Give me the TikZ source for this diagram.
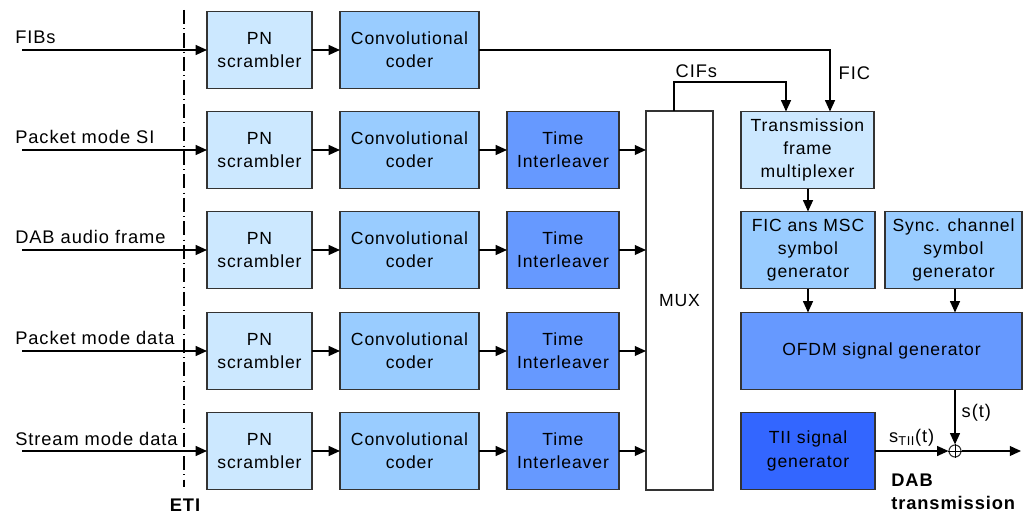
\documentclass[tikz,border=0pt]{standalone}
\usepackage{fontspec}
\setmainfont[LetterSpace=5]{Liberation Sans}
\usetikzlibrary{arrows.meta, calc}
\definecolor{paleblue}{RGB}{204, 232, 255}
\definecolor{midblue}{RGB}{153, 204, 255}
\definecolor{deepblue}{RGB}{102, 153, 255}
\definecolor{darkblue}{RGB}{51, 102, 255}
\definecolor{edgegray}{RGB}{51, 51, 51}
\tikzstyle{block} = [draw=edgegray, line width=1pt, inner sep=2, outer sep=0,
    minimum height=1.925cm, align=center, font=\fontsize{12.5}{16.5}\selectfont]
\tikzstyle{pn} = [block, fill=paleblue, minimum width=2.625cm]
\tikzstyle{conv} = [block, fill=midblue, minimum width=3.475cm]
\tikzstyle{inter} = [block, fill=deepblue, minimum width=2.8cm]
\tikzstyle{arr} = [-{Triangle[length=8pt,width=7pt]}, line width=1pt]
\tikzstyle{lbl} = [font=\fontsize{13}{15}\selectfont, inner sep=0]

\begin{document}
\begin{tikzpicture}[x=0.025cm, y=-0.025cm]

\useasboundingbox (0,0) rectangle (1024,517);

%%% ETI border
\draw[line width=1pt, dash pattern=on 10pt off 3pt on 0.7pt off 3pt] (184,10) -- (184,487);
\node[lbl, font=\fontsize{13}{15}\selectfont\bfseries] (eti) at (185,505) {ETI};


%%% inputs
\coordinate (in1) at (22,50);
\coordinate (in2) at (22,150);
\coordinate (in3) at (22,250);
\coordinate (in4) at (22,351);
\coordinate (in5) at (22,451);

\node[lbl, anchor=base west] (fibs) at (15,44) {FIBs};
\node[lbl, anchor=base west] (pmsi) at (15,144) {Packet mode SI};
\node[lbl, anchor=base west] (audio) at (15,244) {DAB audio frame};
\node[lbl, anchor=base west] (pmdata) at (15,345) {Packet mode data};
\node[lbl, anchor=base west] (smdata) at (15,445) {Stream mode data};


%%% scramblers
\node[pn] (pn1) at (259.5,50) {PN\\scrambler};
\node[pn] (pn2) at (259.5,150) {PN\\scrambler};
\node[pn] (pn3) at (259.5,250) {PN\\scrambler};
\node[pn] (pn4) at (259.5,351) {PN\\scrambler};
\node[pn] (pn5) at (259.5,451) {PN\\scrambler};

%%% coders
\node[conv] (conv1) at (409.5,50) {Convolutional\\coder};
\node[conv] (conv2) at (409.5,150) {Convolutional\\coder};
\node[conv] (conv3) at (409.5,250) {Convolutional\\coder};
\node[conv] (conv4) at (409.5,351) {Convolutional\\coder};
\node[conv] (conv5) at (409.5,451) {Convolutional\\coder};

%%% interleavers
\node[inter] (ti2) at (563,150) {Time\\Interleaver};
\node[inter] (ti3) at (563,250) {Time\\Interleaver};
\node[inter] (ti4) at (563,351) {Time\\Interleaver};
\node[inter] (ti5) at (563,451) {Time\\Interleaver};

\node[block, fill=white, minimum width=1.675cm, minimum height=9.475cm] (mux) at (679.5,300.5) {MUX};


%%% transmitter side
\node[block, fill=paleblue, minimum width=3.325cm] (tfm) at (807.5,150) {Transmission\\frame\\multiplexer};
\node[block, fill=midblue, minimum width=3.35cm] (fic) at (808,250) {FIC ans MSC\\symbol\\generator};
\node[block, fill=midblue, minimum width=3.425cm] (sync) at (953.5,250) {Sync. channel\\symbol\\generator};
\node[block, fill=deepblue, minimum width=7.025cm] (ofdm) at (881.5,351) {OFDM signal generator};
\node[block, fill=darkblue, minimum width=3.35cm] (tii) at (808,451) {TII signal\\generator};

\node[circle, draw=edgegray, line width=0.8pt, fill=white, inner sep=0, minimum size=0.3cm] (add) at (955,451) {};
\draw[line width=0.6pt] (add.north) -- (add.south) (add.west) -- (add.east);
\coordinate (out) at (1021,451);


%%% connections
\draw[arr] (in1) -- (pn1.west);
\draw[arr] (in2) -- (pn2.west);
\draw[arr] (in3) -- (pn3.west);
\draw[arr] (in4) -- (pn4.west);
\draw[arr] (in5) -- (pn5.west);

\draw[arr] (pn1) -- (conv1);
\draw[arr] (pn2) -- (conv2);
\draw[arr] (pn3) -- (conv3);
\draw[arr] (pn4) -- (conv4);
\draw[arr] (pn5) -- (conv5);

\draw[arr] (conv2) -- (ti2);
\draw[arr] (conv3) -- (ti3);
\draw[arr] (conv4) -- (ti4);
\draw[arr] (conv5) -- (ti5);

\draw[arr] (ti2.east) -- (ti2.east -| mux.west);
\draw[arr] (ti3.east) -- (ti3.east -| mux.west);
\draw[arr] (ti4.east) -- (ti4.east -| mux.west);
\draw[arr] (ti5.east) -- (ti5.east -| mux.west);

\draw[arr] (conv1.east) -| node[lbl, pos=0.5, anchor=south west, xshift=0.2cm, yshift=-0.75cm] {FIC} ($(tfm.north)+(22.5,0)$);
\draw[arr] ($(mux.north)+(-5.5,0)$) -- ++(0,-29) -| node[lbl, pos=0.1, anchor=south, yshift=0.1cm] {CIFs} ($(tfm.north)+(-21.5,0)$);

\draw[arr] (tfm.south -| fic.north) -- (fic.north);
\draw[arr] (fic.south) -- (fic.south |- ofdm.north);
\draw[arr] (sync.south -| add.north) -- (add.north |- ofdm.north);
\draw[arr] (add.north |- ofdm.south) -- node[lbl, anchor=west, xshift=0.15cm, yshift=0.1cm] {s(t)} (add.north);
\draw[arr] (tii.east) -- node[lbl, anchor=south, yshift=0.1cm] {s\textsubscript{TII}(t)} (add.west);
\draw[arr] (add.east) -- (out);

\node[lbl, anchor=north west, align=left, font=\fontsize{13}{16}\selectfont\bfseries] (dab) at (891,474) {DAB\\transmission};


\end{tikzpicture}
\end{document}
